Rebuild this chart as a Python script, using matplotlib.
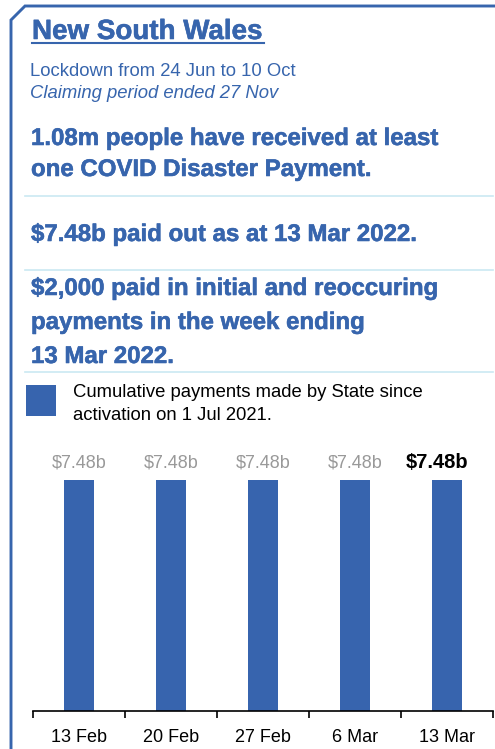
import matplotlib
matplotlib.use("Agg")
import matplotlib.pyplot as plt
import matplotlib.patheffects as pe
from matplotlib.lines import Line2D
from matplotlib.patches import Rectangle

# data
weeks = ['13 Feb', '20 Feb', '27 Feb', '6 Mar', '13 Mar']
cumulative_b = [7.48, 7.48, 7.48, 7.48, 7.48]   # $ billions

state = "New South Wales"
lockdown = "Lockdown from 24 Jun to 10 Oct"
claiming = "Claiming period ended 27 Nov"
headline_1 = ["1.08m people have received at least", "one COVID Disaster Payment."]
headline_2 = ["$7.48b paid out as at 13 Mar 2022."]
headline_3 = ["$2,000 paid in initial and reoccuring", "payments in the week ending", "13 Mar 2022."]
legend_lines = ["Cumulative payments made by State since", "activation on 1 Jul 2021."]

W, H = 495, 749
BLUE = "#3765ad"
BAR = "#3764ae"
SEP = "#cbe9f2"

plt.rcParams['font.family'] = ['Liberation Sans', 'DejaVu Sans']

fig = plt.figure(figsize=(W / 100, H / 100), dpi=100)
heavy = [pe.withStroke(linewidth=0.4, foreground=BLUE)]


def fx(px):
    return px / W


def fy(py):
    return 1 - py / H


def txt(x, y, s, **kw):
    fig.text(fx(x), fy(y), s, va='baseline', ha='left', **kw)


# outer frame with chamfered corner
fig.add_artist(Line2D([fx(11), fx(11), fx(25), fx(495)],
                      [fy(749), fy(20), fy(6), fy(6)],
                      color=BLUE, lw=2.1, solid_joinstyle='miter'))

# title block
txt(32, 39, state, fontsize=20, fontweight='bold', color=BLUE, path_effects=heavy)
fig.add_artist(Line2D([fx(32), fx(264)], [fy(42.5), fy(42.5)], color=BLUE, lw=1.5))
txt(30, 76, lockdown, fontsize=13.3, color=BLUE)
txt(30, 98, claiming, fontsize=13.3, color=BLUE, style='italic')

# headline statements
for i, line in enumerate(headline_1):
    txt(31, 145 + i * 31, line, fontsize=17.3, fontweight='bold', color=BLUE, path_effects=heavy)
for line in headline_2:
    txt(31, 241, line, fontsize=17.3, fontweight='bold', color=BLUE, path_effects=heavy)
for i, line in enumerate(headline_3):
    txt(31, 295 + i * 34, line, fontsize=17.3, fontweight='bold', color=BLUE, path_effects=heavy)

for sy in [196, 270, 372]:
    fig.add_artist(Line2D([fx(25), fx(493)], [fy(sy), fy(sy)], color=SEP, lw=1.2))

# legend
fig.add_artist(Rectangle((fx(26), fy(416)), fx(30), 31 / H, color=BAR, lw=0))
txt(73, 397, legend_lines[0], fontsize=13.3, color='black')
txt(73, 420, legend_lines[1], fontsize=13.3, color='black')

# bar chart
ax_top, ax_bot = 440, 711
ax = fig.add_axes([fx(33), fy(ax_bot), fx(493) - fx(33), (ax_bot - ax_top) / H])
x = list(range(len(weeks)))
ax.bar(x, cumulative_b, width=30 / 92, color=BAR)
ax.set_xlim(-0.5, len(weeks) - 0.5)
ax.set_ylim(0, max(cumulative_b) * (ax_bot - ax_top) / (ax_bot - 480))
for s in ['top', 'left', 'right']:
    ax.spines[s].set_visible(False)
ax.spines['bottom'].set_linewidth(1.2)
ax.set_yticks([])
ax.set_xticks(x)
ax.set_xticklabels(weeks, fontsize=13)
ax.tick_params(axis='x', which='major', length=0, pad=13)
ax.set_xticks([i - 0.5 for i in range(len(weeks) + 1)], minor=True)
ax.tick_params(axis='x', which='minor', length=5, width=1.2, direction='out')

for i, v in enumerate(cumulative_b):
    last = i == len(weeks) - 1
    ax.annotate(f"${v:.2f}b", (i, v), xytext=(-7 if last else 0, 9),
                textcoords='offset points', ha='center', va='baseline',
                fontsize=14.5 if last else 13,
                fontweight='bold' if last else 'normal',
                color='black' if last else '#999999')

fig.savefig('out.png', dpi=100)
